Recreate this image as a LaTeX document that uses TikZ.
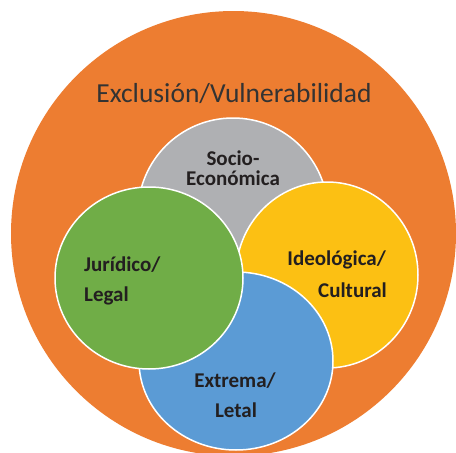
\documentclass[tikz,border=0pt]{standalone}
\usepackage{fontspec}
\setmainfont{Carlito}
\usetikzlibrary{positioning}
\definecolor{naranja}{HTML}{ED7D31}
\definecolor{gris}{HTML}{AFB0B3}
\definecolor{amarillo}{HTML}{FCC013}
\definecolor{azul}{HTML}{5B9BD5}
\definecolor{verde}{HTML}{70AD47}
\definecolor{titulo}{HTML}{333333}
\definecolor{texto}{HTML}{231F20}

\begin{document}
\begin{tikzpicture}[x=1pt,y=-1pt,
  circulo/.style={draw=white,line width=1.5pt},
  etiqueta/.style={font=\bfseries\fontsize{21}{25}\selectfont,text=texto,inner sep=0pt}]
% Units in pixels, y downwards

% Frame of the picture
\clip (0,0) rectangle (456,453);

% Centres of the circles
\coordinate (O) at (233.5,233.5);
\coordinate (S) at (233,213);
\coordinate (I) at (327,275);
\coordinate (E) at (236,361);
\coordinate (J) at (149,278);

% Outer circle and its title
\fill[naranja] (O) circle (222.5);
\node[font=\fontsize{27.5}{32}\selectfont,text=titulo,anchor=base,inner sep=0pt]
  (excl) at (234,102) {Exclusión/Vulnerabilidad};

% Inner circles, back to front
\filldraw[circulo,fill=gris] (S) circle (95);
\filldraw[circulo,fill=amarillo] (I) ellipse [x radius=91,y radius=93];
\filldraw[circulo,fill=azul] (E) ellipse [x radius=97,y radius=89];
\filldraw[circulo,fill=verde] (J) ellipse [x radius=94,y radius=91];

% Labels of the inner circles
\node[etiqueta,anchor=base] (soc1) at (233,165) {Socio-};
\node[etiqueta,anchor=base] (soc2) at (233,185) {Económica};
\node[etiqueta,anchor=base west] (jur1) at (84,271) {Jurídico/};
\node[etiqueta,anchor=base west] (jur2) at (84,301) {Legal};
\node[etiqueta,anchor=base east] (ide1) at (386,265) {Ideológica/};
\node[etiqueta,anchor=base east] (ide2) at (387,297) {Cultural};
\node[etiqueta,anchor=base] (ext1) at (235,387) {Extrema/};
\node[etiqueta,anchor=base] (ext2) at (236,417) {Letal};
\end{tikzpicture}
\end{document}
